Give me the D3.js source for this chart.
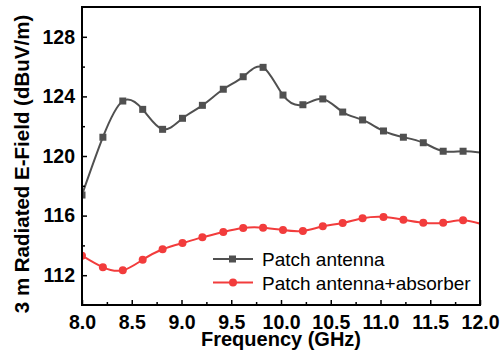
<!DOCTYPE html>
<html>
<head>
<meta charset="utf-8">
<script src="https://cdn.jsdelivr.net/npm/d3@7"></script>
<style>
  body { margin: 0; background: #fff; }
  svg { display: block; font-family: "Liberation Sans", Arial, sans-serif; }
</style>
</head>
<body>
<script>
// frequencies (GHz)
const freqs = [8.0, 8.21, 8.41, 8.61, 8.81, 9.01, 9.21, 9.42, 9.62, 9.82, 10.02,
               10.22, 10.42, 10.62, 10.82, 11.03, 11.23, 11.43, 11.63, 11.83, 12.03];
const patch = [117.38, 121.26, 123.69, 123.13, 121.79, 122.53, 123.40, 124.48, 125.32, 125.95, 124.09,
               123.44, 123.83, 122.95, 122.42, 121.68, 121.26, 120.89, 120.32, 120.32, 120.2];
const absorber = [113.31, 112.53, 112.33, 113.04, 113.74, 114.16, 114.54, 114.90, 115.17, 115.19, 115.03,
                  114.97, 115.28, 115.50, 115.82, 115.91, 115.72, 115.52, 115.52, 115.68, 115.4];
const xTicks = [8.0, 8.5, 9.0, 9.5, 10.0, 10.5, 11.0, 11.5, 12.0];
const yTicks = [112, 116, 120, 124, 128];
const seriesNames = ["Patch antenna", "Patch antenna+absorber"];

const width = 503, height = 350;
const plotLeft = 82, plotRight = 480, plotTop = 7, plotBottom = 305;

const svg = d3.select("body").append("svg")
    .attr("width", width)
    .attr("height", height);

const x = d3.scaleLinear().domain([8, 12]).range([plotLeft, plotRight]);
const y = d3.scaleLinear().domain([110, 130]).range([plotBottom, plotTop]);

svg.append("clipPath").attr("id", "plot")
  .append("rect")
    .attr("x", plotLeft).attr("y", plotTop)
    .attr("width", plotRight - plotLeft).attr("height", plotBottom - plotTop);

const series = [
  {name: seriesNames[0], values: patch, color: "#505050", shape: "square"},
  {name: seriesNames[1], values: absorber, color: "#f23c3c", shape: "circle"}
];

const line = d3.line()
    .x(d => x(d[0]))
    .y(d => y(d[1]))
    .curve(d3.curveNatural);

const plot = svg.append("g").attr("clip-path", "url(#plot)");

series.forEach(s => {
  const pts = freqs.map((f, i) => [f, s.values[i]]);
  plot.append("path")
      .attr("d", line(pts))
      .attr("fill", "none")
      .attr("stroke", s.color)
      .attr("stroke-width", 2);

  if (s.shape === "square") {
    plot.selectAll(null).data(pts).enter().append("rect")
        .attr("x", d => x(d[0]) - 3.5)
        .attr("y", d => y(d[1]) - 3.5)
        .attr("width", 7).attr("height", 7)
        .attr("fill", s.color);
  } else {
    plot.selectAll(null).data(pts).enter().append("circle")
        .attr("cx", d => x(d[0]))
        .attr("cy", d => y(d[1]))
        .attr("r", 4)
        .attr("fill", s.color);
  }
});

// axes, ticks pointing inward
const xAxis = svg.append("g").attr("transform", `translate(0,${plotBottom})`)
    .call(d3.axisBottom(x).tickValues(xTicks).tickSize(-5).tickFormat(d3.format(".1f")));
xAxis.selectAll(".tick text")
    .attr("y", 10)
    .attr("dy", "0.71em")
    .style("font-size", "19.5px")
    .style("font-weight", "bold");

svg.append("g").attr("transform", `translate(0,${plotBottom})`)
    .call(d3.axisBottom(x).tickValues(d3.range(8.25, 12, 0.5)).tickSize(-3).tickFormat(""));

const yAxis = svg.append("g").attr("transform", `translate(${plotLeft},0)`)
    .call(d3.axisLeft(y).tickValues(yTicks).tickSize(-5));
yAxis.selectAll(".tick text")
    .attr("x", -7)
    .style("font-size", "19.5px")
    .style("font-weight", "bold");

svg.append("g").attr("transform", `translate(${plotLeft},0)`)
    .call(d3.axisLeft(y).tickValues([114, 118, 122, 126]).tickSize(-3).tickFormat(""));

svg.selectAll(".domain").remove();
svg.selectAll(".tick line").attr("stroke", "#000").attr("stroke-width", 1.5);
svg.selectAll(".tick text").attr("fill", "#000");

svg.append("rect")
    .attr("x", plotLeft).attr("y", plotTop)
    .attr("width", plotRight - plotLeft).attr("height", plotBottom - plotTop)
    .attr("fill", "none")
    .attr("stroke", "#000")
    .attr("stroke-width", 2);

// axis titles
svg.append("text")
    .attr("x", (plotLeft + plotRight) / 2)
    .attr("y", 346)
    .attr("text-anchor", "middle")
    .style("font-size", "20px")
    .style("font-weight", "bold")
    .text("Frequency (GHz)");

svg.append("text")
    .attr("transform", "translate(29,164) rotate(-90)")
    .attr("text-anchor", "middle")
    .style("font-size", "20.5px")
    .style("font-weight", "bold")
    .text("3 m Radiated E-Field (dBuV/m)");

// legend
const legend = svg.append("g");
series.forEach((s, i) => {
  const ly = 259 + i * 23.5;
  legend.append("line")
      .attr("x1", 213).attr("x2", 253)
      .attr("y1", ly).attr("y2", ly)
      .attr("stroke", s.color).attr("stroke-width", 2);
  if (s.shape === "square") {
    legend.append("rect")
        .attr("x", 229).attr("y", ly - 3.5)
        .attr("width", 7).attr("height", 7)
        .attr("fill", s.color);
  } else {
    legend.append("circle")
        .attr("cx", 233).attr("cy", ly).attr("r", 4)
        .attr("fill", s.color);
  }
  legend.append("text")
      .attr("x", 262)
      .attr("y", ly + 7)
      .style("font-size", "19px")
      .attr("fill", "#000")
      .text(s.name);
});
</script>
</body>
</html>
